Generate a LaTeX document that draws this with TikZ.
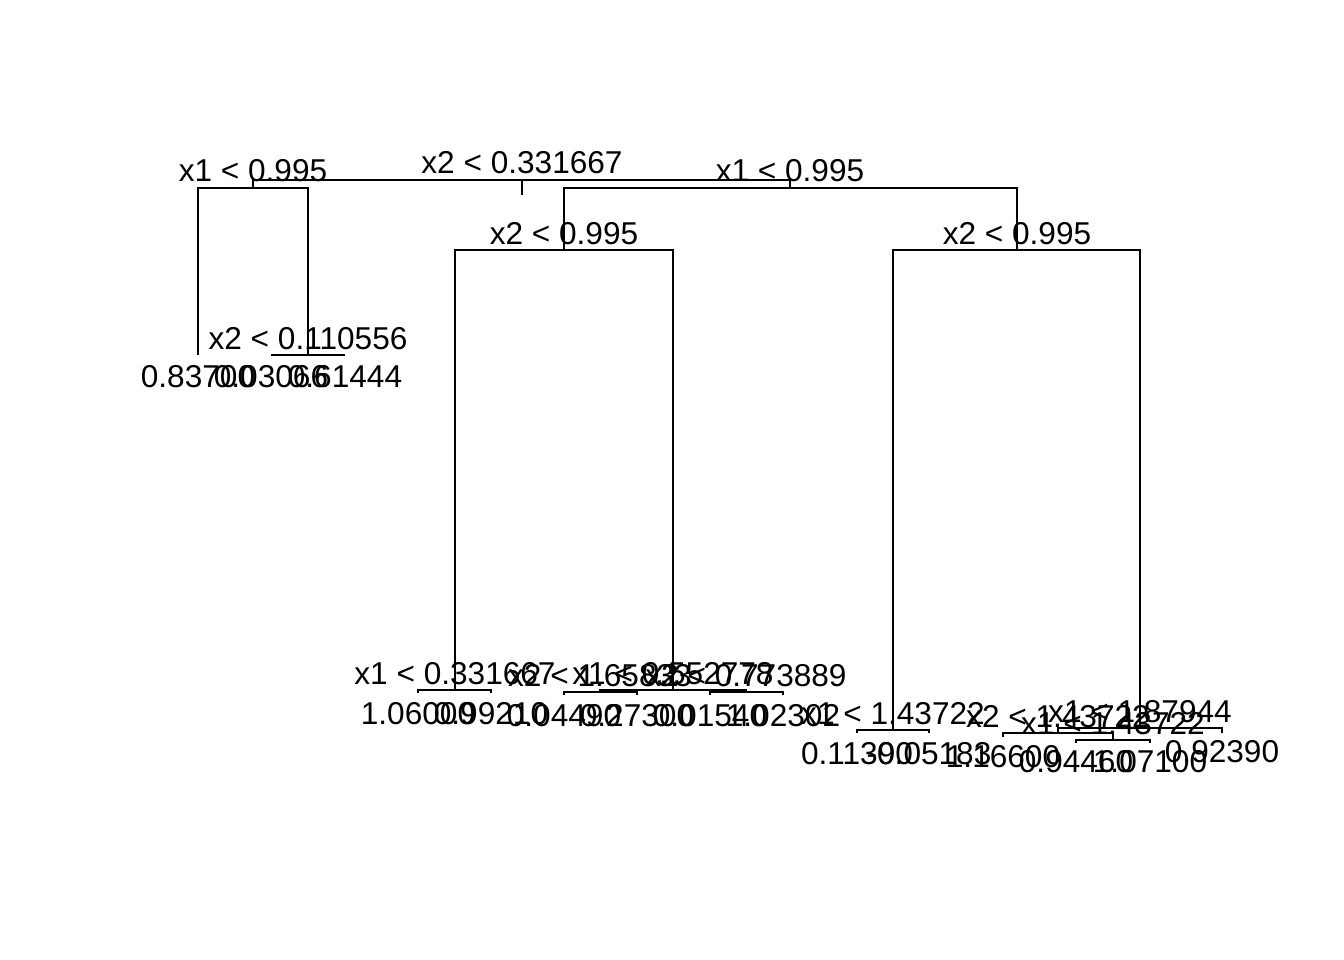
\documentclass[tikz,border=0pt]{standalone}
\usepackage{fontspec}
\setmainfont{Liberation Sans}
\begin{document}
\begin{tikzpicture}[x=1pt,y=-1pt,
  edge/.style={line width=2pt, line cap=butt},
  lab/.style={font=\fontsize{31.6}{36}\selectfont, inner sep=0pt, anchor=base}]
\fill[white] (0,0) rectangle (1344,960);
\useasboundingbox (0,0) rectangle (1344,960);
% tree nodes (coordinates)
\coordinate (root) at (522,180);
\coordinate (rootstem) at (522,195);
\coordinate (L) at (253,188);
\coordinate (R) at (790,188);
\coordinate (L1) at (198,355);
\coordinate (L2) at (308,355);
\coordinate (L2a) at (271,355);
\coordinate (L2b) at (345,355);
\coordinate (RL) at (564,250);
\coordinate (RR) at (1017,250);
\coordinate (RLa) at (455,690);
\coordinate (RLa1) at (418,693);
\coordinate (RLa2) at (491,693);
\coordinate (RLb) at (673,690);
\coordinate (RLb1) at (600,692);
\coordinate (RLb1a) at (564,695);
\coordinate (RLb1b) at (637,695);
\coordinate (RLb2) at (746,692);
\coordinate (RLb2a) at (710,695);
\coordinate (RLb2b) at (783,695);
\coordinate (RRa) at (893,730);
\coordinate (RRa1) at (857,733);
\coordinate (RRa2) at (929,733);
\coordinate (RRb) at (1140,728);
\coordinate (RRb1) at (1058,733);
\coordinate (RRb1a) at (1003,737);
\coordinate (RRb1b) at (1113,740);
\coordinate (RRb1b1) at (1076,743);
\coordinate (RRb1b2) at (1150,743);
\coordinate (RRb2) at (1222,733);
% edges
\draw[edge] (root) -- (rootstem);
\draw[edge] (root) -| (L);
\draw[edge] (root) -| (R);
\draw[edge] (L) -| (L1);
\draw[edge] (L) -| (L2);
\draw[edge] (L2) -| (L2a);
\draw[edge] (L2) -| (L2b);
\draw[edge] (R) -| (RL);
\draw[edge] (R) -| (RR);
\draw[edge] (RL) -| (RLa);
\draw[edge] (RL) -| (RLb);
\draw[edge] (RLa) -| (RLa1);
\draw[edge] (RLa) -| (RLa2);
\draw[edge] (RLb) -| (RLb1);
\draw[edge] (RLb) -| (RLb2);
\draw[edge] (RLb1) -| (RLb1a);
\draw[edge] (RLb1) -| (RLb1b);
\draw[edge] (RLb2) -| (RLb2a);
\draw[edge] (RLb2) -| (RLb2b);
\draw[edge] (RR) -| (RRa);
\draw[edge] (RR) -| (RRb);
\draw[edge] (RRa) -| (RRa1);
\draw[edge] (RRa) -| (RRa2);
\draw[edge] (RRb) -| (RRb1);
\draw[edge] (RRb) -| (RRb2);
\draw[edge] (RRb1) -| (RRb1a);
\draw[edge] (RRb1) -| (RRb1b);
\draw[edge] (RRb1b) -| (RRb1b1);
\draw[edge] (RRb1b) -| (RRb1b2);
% split labels
\node[lab] (root-t) at (522,174) {x2 < 0.331667};
\node[lab] (L-t) at (253,182) {x1 < 0.995};
\node[lab] (R-t) at (790,182) {x1 < 0.995};
\node[lab] (L2-t) at (308,349) {x2 < 0.110556};
\node[lab] (RL-t) at (564,244) {x2 < 0.995};
\node[lab] (RR-t) at (1017,244) {x2 < 0.995};
\node[lab] (RLa-t) at (455,684) {x1 < 0.331667};
\node[lab] (RLb-t) at (673,684) {x1 < 0.552778};
\node[lab] (RLb1-t) at (600,686) {x2 < 1.65833};
\node[lab] (RLb2-t) at (746,686) {x2 < 0.773889};
\node[lab] (RRa-t) at (893,724) {x1 < 1.43722};
\node[lab] (RRb-t) at (1140,722) {x1 < 1.87944};
\node[lab] (RRb1-t) at (1058,727) {x2 < 1.43722};
\node[lab] (RRb1b-t) at (1113,734) {x1 < 1.43722};
% leaf labels
\node[lab] (L1-t) at (198,387) {0.83700};
\node[lab] (L2a-t) at (271,387) {0.03066};
\node[lab] (L2b-t) at (345,387) {0.61444};
\node[lab] (RLa1-t) at (418,724) {1.06000};
\node[lab] (RLa2-t) at (491,724) {0.99210};
\node[lab] (RLb1a-t) at (564,726) {0.04490};
\node[lab] (RLb1b-t) at (637,726) {0.27300};
\node[lab] (RLb2a-t) at (710,726) {0.01540};
\node[lab] (RLb2b-t) at (783,726) {1.02302};
\node[lab] (RRa1-t) at (857,764) {0.11390};
\node[lab] (RRa2-t) at (929,764) {-0.05183};
\node[lab] (RRb1a-t) at (1003,767) {1.16600};
\node[lab] (RRb1b1-t) at (1076,772) {0.94460};
\node[lab] (RRb1b2-t) at (1150,772) {1.07100};
\node[lab] (RRb2-t) at (1222,762) {0.92390};
\end{tikzpicture}
\end{document}
